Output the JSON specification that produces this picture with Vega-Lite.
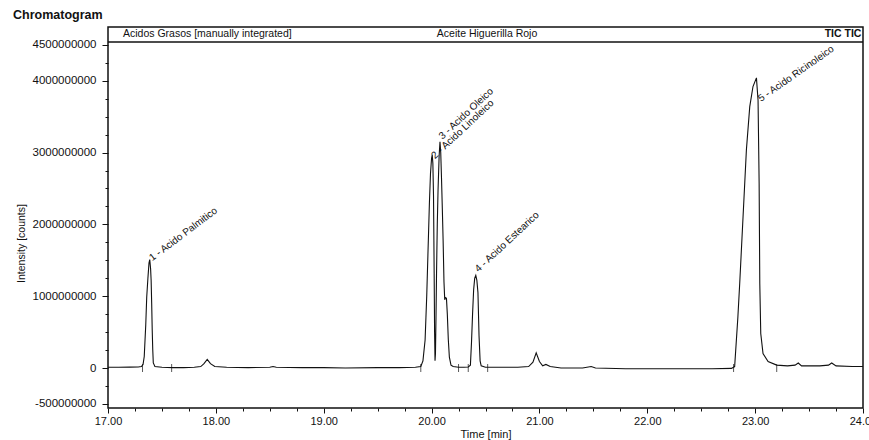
{
  "$schema": "https://vega.github.io/schema/vega-lite/v6.json",
  "autosize": {"type": "none"},
  "padding": {"left": 108, "top": 27, "right": 6, "bottom": 32},
  "width": 755,
  "height": 381,
  "background": "white",
  "config": {
    "font": "Liberation Sans",
    "view": {"stroke": "#111111", "strokeWidth": 1.5},
    "axis": {"labelColor": "#111111", "tickColor": "#111111", "titleColor": "#111111", "labelFont": "Liberation Sans", "titleFont": "Liberation Sans"}
  },
  "title": {"text": "Chromatogram", "anchor": "start", "frame": "group", "dx": -95, "dy": 14, "offset": 7, "fontSize": 12.5, "fontWeight": "bold", "color": "#111111", "baseline": "bottom", "font": "Liberation Sans"},
  "datasets": {
    "trace": [
      {"t": 17.0, "v": 10000000}, {"t": 17.1, "v": 10000000}, {"t": 17.2, "v": 12000000}, {"t": 17.28, "v": 15000000},
      {"t": 17.31, "v": 20000000}, {"t": 17.325, "v": 50000000}, {"t": 17.336, "v": 160000000}, {"t": 17.35, "v": 600000000},
      {"t": 17.359, "v": 990000000}, {"t": 17.37, "v": 1250000000}, {"t": 17.38, "v": 1460000000}, {"t": 17.387, "v": 1510000000},
      {"t": 17.395, "v": 1380000000}, {"t": 17.4, "v": 1220000000}, {"t": 17.405, "v": 900000000}, {"t": 17.41, "v": 530000000},
      {"t": 17.415, "v": 250000000}, {"t": 17.42, "v": 70000000}, {"t": 17.435, "v": 20000000}, {"t": 17.5, "v": 10000000},
      {"t": 17.6, "v": 5000000}, {"t": 17.7, "v": 5000000}, {"t": 17.8, "v": 10000000}, {"t": 17.86, "v": 20000000},
      {"t": 17.89, "v": 60000000}, {"t": 17.92, "v": 120000000}, {"t": 17.95, "v": 60000000}, {"t": 17.99, "v": 20000000},
      {"t": 18.1, "v": 10000000}, {"t": 18.3, "v": 5000000}, {"t": 18.5, "v": 10000000}, {"t": 18.53, "v": 20000000},
      {"t": 18.56, "v": 10000000}, {"t": 18.8, "v": 5000000}, {"t": 19.0, "v": 5000000}, {"t": 19.2, "v": 0},
      {"t": 19.5, "v": 5000000}, {"t": 19.7, "v": 5000000}, {"t": 19.85, "v": 10000000}, {"t": 19.9, "v": 20000000},
      {"t": 19.92, "v": 100000000}, {"t": 19.94, "v": 390000000}, {"t": 19.955, "v": 1000000000}, {"t": 19.97, "v": 1780000000},
      {"t": 19.98, "v": 2300000000}, {"t": 19.99, "v": 2710000000}, {"t": 20.0, "v": 2920000000}, {"t": 20.006, "v": 2970000000},
      {"t": 20.012, "v": 2850000000}, {"t": 20.018, "v": 2400000000}, {"t": 20.024, "v": 1320000000}, {"t": 20.028, "v": 500000000},
      {"t": 20.032, "v": 100000000}, {"t": 20.036, "v": 200000000}, {"t": 20.041, "v": 700000000}, {"t": 20.046, "v": 1320000000},
      {"t": 20.053, "v": 2000000000}, {"t": 20.06, "v": 2480000000}, {"t": 20.07, "v": 2950000000}, {"t": 20.078, "v": 3150000000},
      {"t": 20.085, "v": 3000000000}, {"t": 20.092, "v": 2650000000}, {"t": 20.1, "v": 2200000000}, {"t": 20.107, "v": 1780000000},
      {"t": 20.115, "v": 1200000000}, {"t": 20.122, "v": 950000000}, {"t": 20.13, "v": 980000000}, {"t": 20.138, "v": 970000000},
      {"t": 20.146, "v": 750000000}, {"t": 20.155, "v": 400000000}, {"t": 20.165, "v": 150000000}, {"t": 20.18, "v": 40000000},
      {"t": 20.2, "v": 20000000}, {"t": 20.25, "v": 10000000}, {"t": 20.3, "v": 10000000}, {"t": 20.34, "v": 15000000},
      {"t": 20.36, "v": 40000000}, {"t": 20.37, "v": 350000000}, {"t": 20.38, "v": 750000000}, {"t": 20.39, "v": 1090000000},
      {"t": 20.4, "v": 1250000000}, {"t": 20.41, "v": 1290000000}, {"t": 20.42, "v": 1220000000}, {"t": 20.43, "v": 1050000000},
      {"t": 20.44, "v": 450000000}, {"t": 20.45, "v": 100000000}, {"t": 20.46, "v": 30000000}, {"t": 20.5, "v": 10000000},
      {"t": 20.6, "v": 10000000}, {"t": 20.8, "v": 10000000}, {"t": 20.9, "v": 20000000}, {"t": 20.94, "v": 80000000},
      {"t": 20.97, "v": 210000000}, {"t": 21.0, "v": 90000000}, {"t": 21.03, "v": 30000000}, {"t": 21.06, "v": 50000000},
      {"t": 21.1, "v": 20000000}, {"t": 21.2, "v": 0}, {"t": 21.4, "v": 0}, {"t": 21.48, "v": 20000000},
      {"t": 21.52, "v": 0}, {"t": 21.8, "v": -10000000}, {"t": 22.0, "v": -10000000}, {"t": 22.3, "v": -10000000},
      {"t": 22.6, "v": -10000000}, {"t": 22.78, "v": -5000000}, {"t": 22.81, "v": 20000000}, {"t": 22.84, "v": 710000000},
      {"t": 22.857, "v": 1180000000}, {"t": 22.888, "v": 2110000000}, {"t": 22.919, "v": 3040000000}, {"t": 22.95, "v": 3640000000},
      {"t": 22.98, "v": 3920000000}, {"t": 23.012, "v": 4040000000}, {"t": 23.027, "v": 3730000000}, {"t": 23.037, "v": 2570000000},
      {"t": 23.043, "v": 1180000000}, {"t": 23.052, "v": 480000000}, {"t": 23.073, "v": 200000000}, {"t": 23.12, "v": 90000000},
      {"t": 23.2, "v": 40000000}, {"t": 23.3, "v": 30000000}, {"t": 23.37, "v": 40000000}, {"t": 23.4, "v": 70000000},
      {"t": 23.43, "v": 30000000}, {"t": 23.6, "v": 30000000}, {"t": 23.68, "v": 40000000}, {"t": 23.71, "v": 70000000},
      {"t": 23.75, "v": 30000000}, {"t": 23.9, "v": 20000000}, {"t": 24.0, "v": 20000000}
    ],
    "markers": [
      {"t": 17.32, "v": 0}, {"t": 17.59, "v": 0}, {"t": 19.9, "v": 0}, {"t": 20.25, "v": 0},
      {"t": 20.34, "v": 0}, {"t": 20.52, "v": 0}, {"t": 22.8, "v": 0}, {"t": 23.2, "v": 0}
    ],
    "peaks": [
      {"n": 1, "label": "1 - Acido Palmitico", "t": 17.387, "v": 1510000000},
      {"n": 2, "label": "2 - Acido Linoleico", "t": 20.006, "v": 2930000000},
      {"n": 3, "label": "3 - Acido Oleico", "t": 20.076, "v": 3200000000},
      {"n": 4, "label": "4 - Acido Estearico", "t": 20.41, "v": 1350000000},
      {"n": 5, "label": "5 - Acido Ricinoleico", "t": 23.03, "v": 3730000000}
    ]
  },
  "layer": [
    {
      "data": {"name": "trace"},
      "mark": {"type": "line", "color": "#111111", "strokeWidth": 1.1, "clip": true},
      "encoding": {
        "x": {
          "field": "t", "type": "quantitative",
          "scale": {"domain": [17, 24], "nice": false, "zero": false},
          "axis": {
            "title": "Time [min]",
            "values": [17, 17.25, 17.5, 17.75, 18, 18.25, 18.5, 18.75, 19, 19.25, 19.5, 19.75, 20, 20.25, 20.5, 20.75, 21, 21.25, 21.5, 21.75, 22, 22.25, 22.5, 22.75, 23, 23.25, 23.5, 23.75, 24],
            "tickCount": 200,
            "labelExpr": "datum.value % 1 === 0 ? format(datum.value, '.2f') : ''",
            "tickSize": {"condition": {"test": "datum.value % 1 === 0", "value": 5}, "value": 3},
            "domain": false, "grid": false,
            "labelFontSize": 11, "labelPadding": 2, "labelFlush": false, "labelOverlap": false,
            "titleFontSize": 11, "titleFontWeight": "normal", "titlePadding": 2
          }
        },
        "y": {
          "field": "v", "type": "quantitative",
          "scale": {"domain": [-557000000, 4749000000], "nice": false, "zero": false},
          "axis": {
            "title": "Intensity [counts]",
            "values": [-500000000, -250000000, 0, 250000000, 500000000, 750000000, 1000000000, 1250000000, 1500000000, 1750000000, 2000000000, 2250000000, 2500000000, 2750000000, 3000000000, 3250000000, 3500000000, 3750000000, 4000000000, 4250000000, 4500000000],
            "tickCount": 200,
            "labelExpr": "indexof([-500000000, 0, 1000000000, 2000000000, 3000000000, 4000000000, 4500000000], datum.value) >= 0 ? '' + datum.value : ''",
            "tickSize": {"condition": {"test": "indexof([-500000000, 0, 1000000000, 2000000000, 3000000000, 4000000000, 4500000000], datum.value) >= 0", "value": 6}, "value": 3},
            "domain": false, "grid": false,
            "labelFontSize": 11.5, "labelPadding": 6, "labelOverlap": false, "labelFlush": false,
            "titleFontSize": 10.5, "titleFontWeight": "normal", "titlePadding": 6, "titleY": 216
          }
        }
      }
    },
    {
      "data": {"name": "markers"},
      "mark": {"type": "tick", "orient": "vertical", "size": 8, "thickness": 1, "color": "#111111"},
      "encoding": {
        "x": {"field": "t", "type": "quantitative"},
        "y": {"field": "v", "type": "quantitative"}
      }
    },
    {
      "data": {"values": [{}]},
      "mark": {"type": "rule", "color": "#111111", "strokeWidth": 1.3},
      "encoding": {"y": {"datum": 4540000000, "type": "quantitative"}}
    },
    {
      "data": {"values": [{}]},
      "mark": {"type": "text", "align": "left", "baseline": "middle", "fontSize": 10.5, "color": "#111111"},
      "encoding": {
        "x": {"datum": 17.139, "type": "quantitative"},
        "y": {"datum": 4652000000, "type": "quantitative"},
        "text": {"value": "Acidos Grasos [manually integrated]"}
      }
    },
    {
      "data": {"values": [{}]},
      "mark": {"type": "text", "align": "left", "baseline": "middle", "fontSize": 10.5, "color": "#111111"},
      "encoding": {
        "x": {"datum": 20.049, "type": "quantitative"},
        "y": {"datum": 4652000000, "type": "quantitative"},
        "text": {"value": "Aceite Higuerilla Rojo"}
      }
    },
    {
      "data": {"values": [{}]},
      "mark": {"type": "text", "align": "right", "baseline": "middle", "fontSize": 10.5, "fontWeight": "bold", "color": "#111111"},
      "encoding": {
        "x": {"datum": 23.985, "type": "quantitative"},
        "y": {"datum": 4652000000, "type": "quantitative"},
        "text": {"value": "TIC TIC"}
      }
    },
    {
      "data": {"name": "peaks"},
      "transform": [{"filter": "datum.n == 1"}],
      "mark": {"type": "text", "align": "left", "baseline": "middle", "angle": 323, "dx": 1, "fontSize": 10, "color": "#111111"},
      "encoding": {
        "x": {"field": "t", "type": "quantitative"},
        "y": {"field": "v", "type": "quantitative"},
        "text": {"field": "label"}
      }
    },
    {
      "data": {"name": "peaks"},
      "transform": [{"filter": "datum.n >= 2 && datum.n <= 4"}],
      "mark": {"type": "text", "align": "left", "baseline": "middle", "angle": 317, "dx": 1, "fontSize": 10, "color": "#111111"},
      "encoding": {
        "x": {"field": "t", "type": "quantitative"},
        "y": {"field": "v", "type": "quantitative"},
        "text": {"field": "label"}
      }
    },
    {
      "data": {"name": "peaks"},
      "transform": [{"filter": "datum.n == 5"}],
      "mark": {"type": "text", "align": "left", "baseline": "middle", "angle": 325, "dx": 1, "fontSize": 10, "color": "#111111"},
      "encoding": {
        "x": {"field": "t", "type": "quantitative"},
        "y": {"field": "v", "type": "quantitative"},
        "text": {"field": "label"}
      }
    }
  ]
}
